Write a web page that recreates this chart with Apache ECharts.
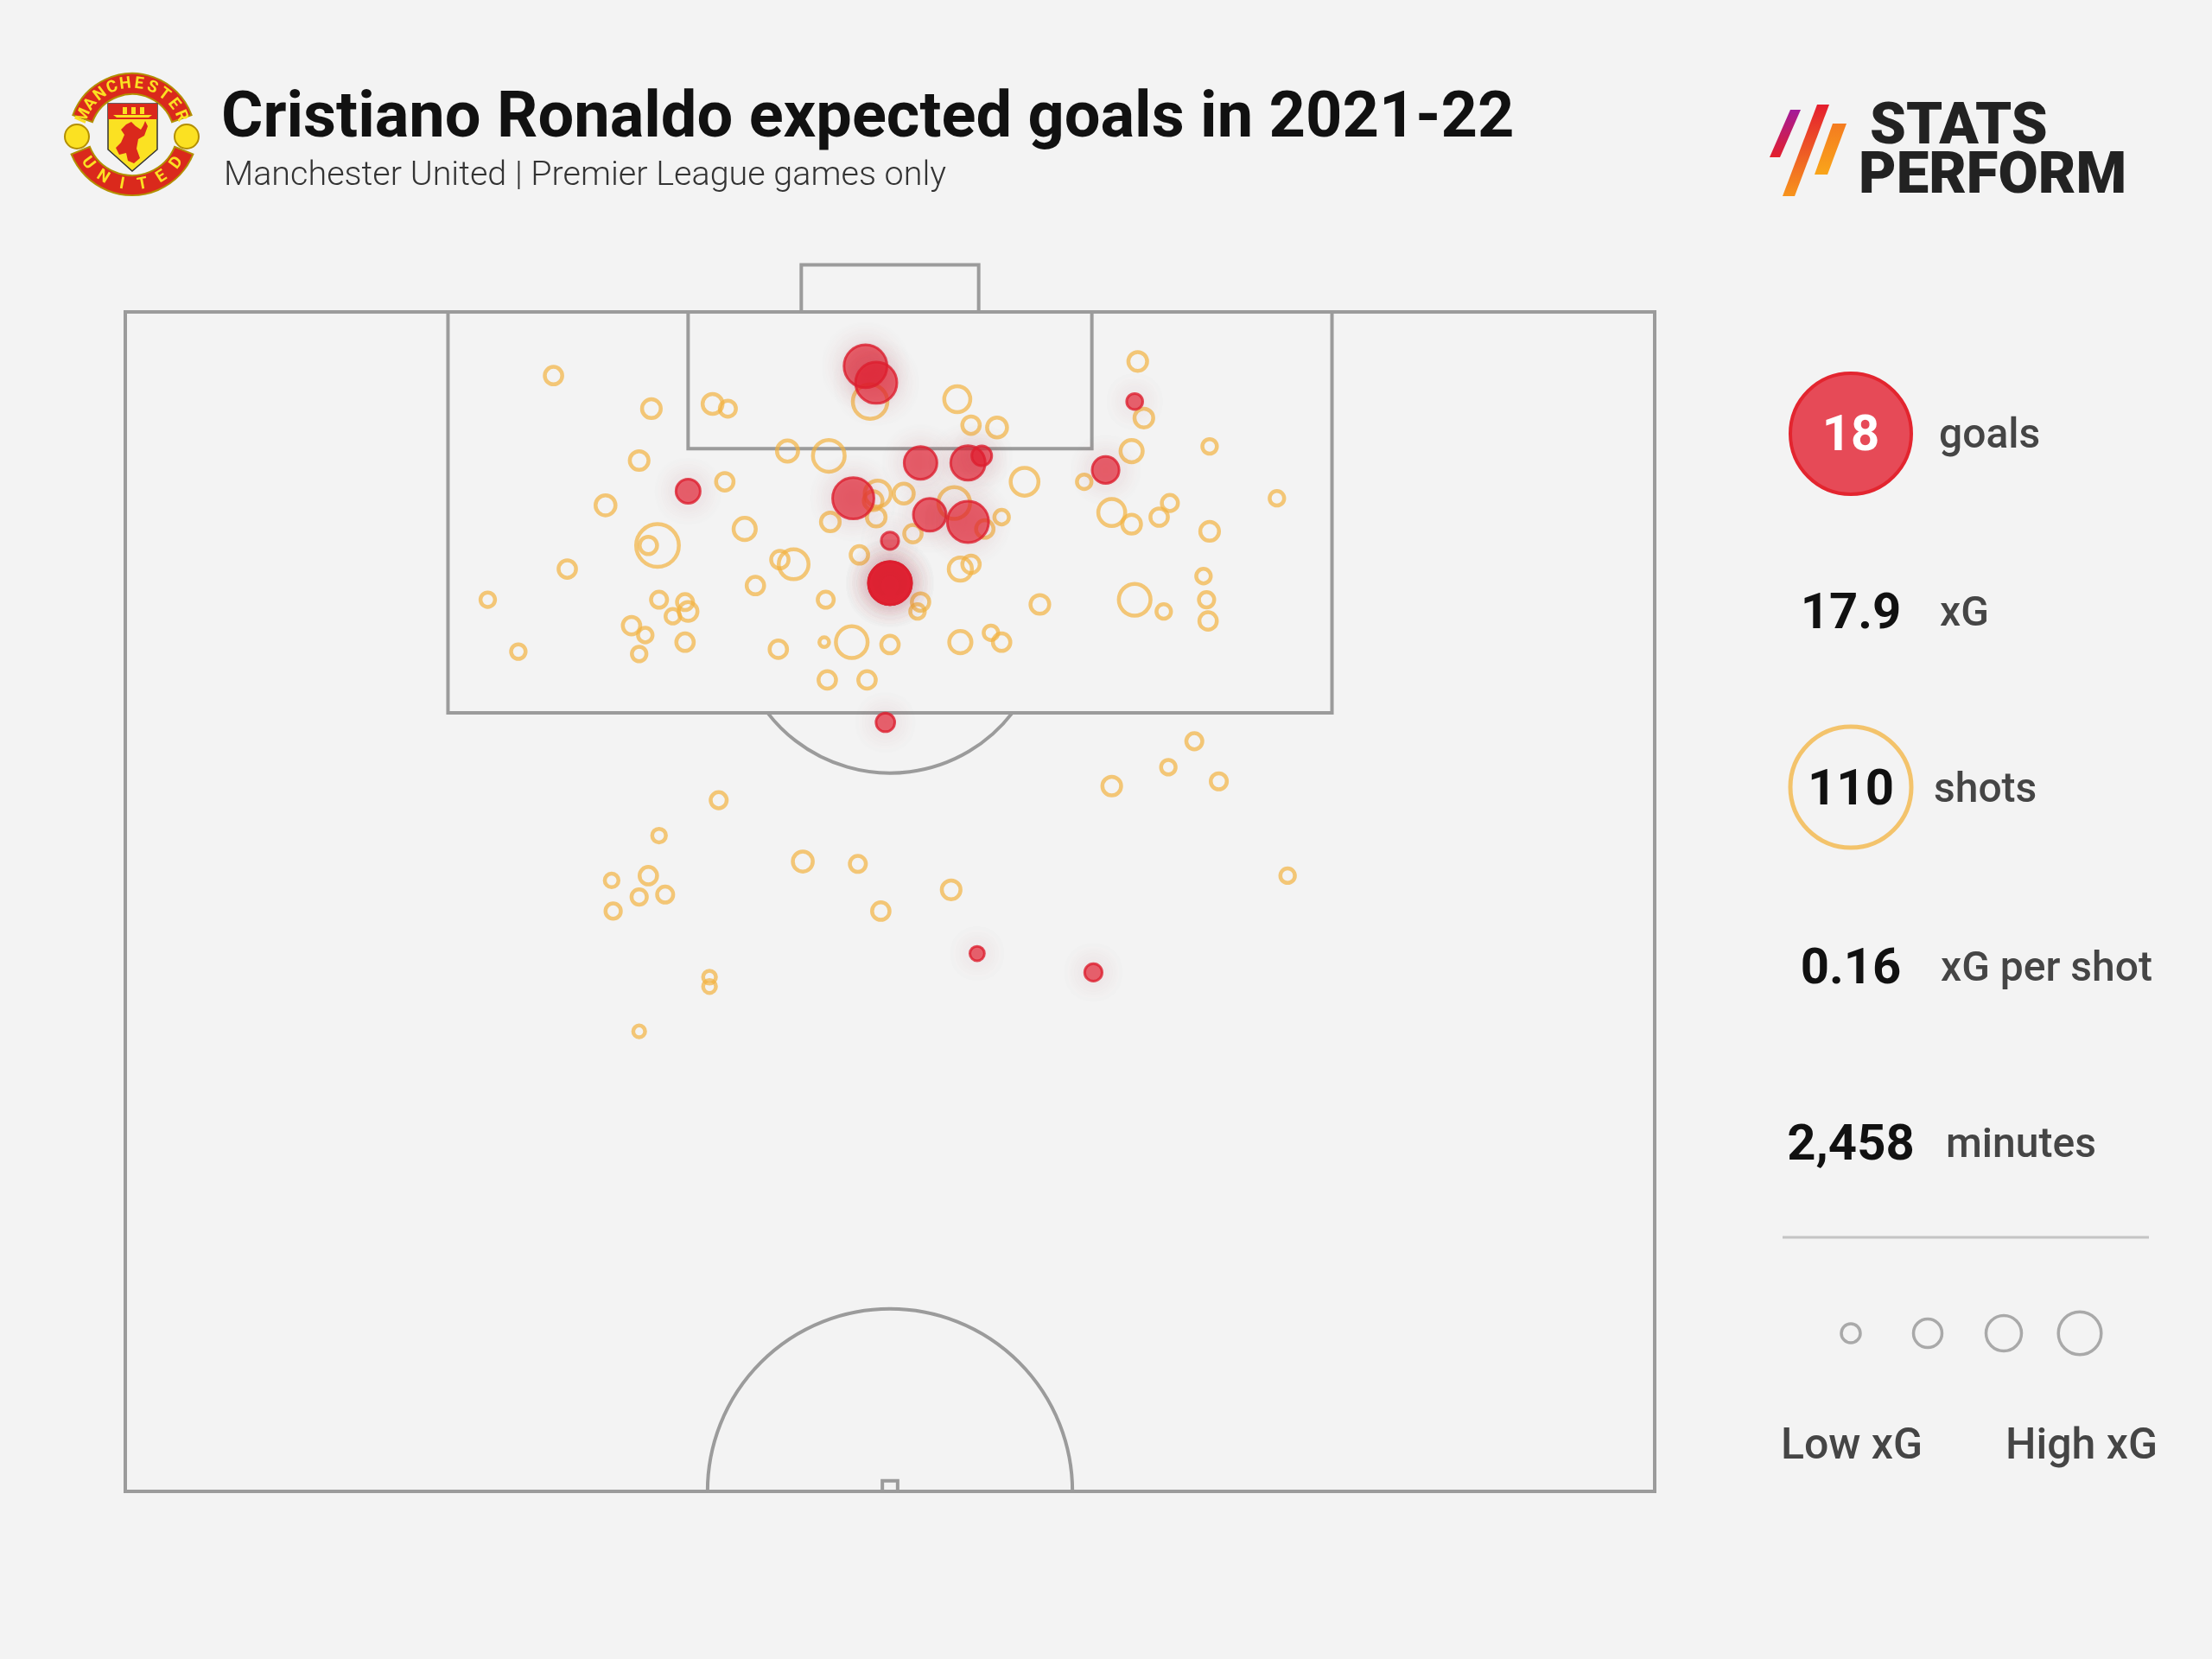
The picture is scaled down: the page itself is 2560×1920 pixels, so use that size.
<!DOCTYPE html>
<html>
<head>
<meta charset="utf-8">
<title>Cristiano Ronaldo expected goals in 2021-22</title>
<script src="https://cdn.jsdelivr.net/npm/echarts@6/dist/echarts.min.js"></script>
<style>
  html, body { margin: 0; padding: 0; background: #f3f3f3; }
  #chart { width: 2560px; height: 1920px; }
</style>
</head>
<body>
<div id="chart"></div>
<script>
// pitch coordinates: [width 0-100, length 50-100 (goal at 100), xG]
var goals = [
    [48.4, 97.7, 0.79],
    [49.1, 97.0, 0.73],
    [36.8, 92.4, 0.25],
    [47.6, 92.1, 0.73],
    [50.0, 90.3, 0.13],
    [50.0, 88.5, 0.79],
    [50.0, 88.5, 0.79],
    [50.0, 88.5, 0.79],
    [52.0, 93.6, 0.46],
    [55.1, 93.6, 0.51],
    [56.0, 93.9, 0.17],
    [52.6, 91.4, 0.46],
    [55.1, 91.1, 0.73],
    [64.1, 93.3, 0.31],
    [66.0, 96.2, 0.11],
    [49.7, 82.6, 0.15],
    [55.7, 72.8, 0.09],
    [63.3, 72.0, 0.13]
];

var shots = [
    [28.0, 97.3, 0.13], [34.4, 95.9, 0.15], [38.4, 96.1, 0.17], [39.4, 95.9, 0.11],
    [33.6, 93.7, 0.15], [39.2, 92.8, 0.13], [31.4, 91.8, 0.17], [34.8, 90.1, 0.78],
    [34.2, 90.1, 0.13], [40.5, 90.8, 0.21], [28.9, 89.1, 0.13], [23.7, 87.8, 0.09],
    [25.7, 85.6, 0.09], [34.9, 87.8, 0.11], [36.6, 87.7, 0.11], [36.8, 87.3, 0.15],
    [35.8, 87.1, 0.09], [33.1, 86.7, 0.13], [34.0, 86.3, 0.09], [33.6, 85.5, 0.09],
    [36.6, 86.0, 0.13], [41.2, 88.4, 0.13], [42.8, 89.5, 0.13], [43.7, 89.3, 0.38],
    [43.3, 94.1, 0.19], [46.0, 93.9, 0.43], [45.8, 87.8, 0.11], [42.7, 85.7, 0.13],
    [45.7, 86.0, 0.04], [47.5, 86.0, 0.43], [50.0, 85.9, 0.13], [45.9, 84.4, 0.13],
    [48.5, 84.4, 0.13], [46.1, 91.1, 0.15], [49.2, 92.3, 0.29], [48.9, 92.0, 0.15],
    [50.9, 92.3, 0.17], [49.1, 91.3, 0.15], [48.0, 89.7, 0.13], [48.7, 96.2, 0.51],
    [66.2, 97.9, 0.15], [66.6, 95.5, 0.15], [54.4, 96.3, 0.29], [55.3, 95.2, 0.13],
    [57.0, 95.1, 0.17], [54.2, 91.9, 0.43], [56.2, 90.8, 0.13], [57.3, 91.3, 0.09],
    [51.5, 90.6, 0.13], [58.8, 92.8, 0.33], [62.7, 92.8, 0.09], [65.8, 94.1, 0.21],
    [70.9, 94.3, 0.09], [75.3, 92.1, 0.09], [64.5, 91.5, 0.31], [65.8, 91.0, 0.15],
    [67.6, 91.3, 0.13], [68.3, 91.9, 0.11], [70.9, 90.7, 0.15], [54.6, 89.1, 0.23],
    [55.3, 89.3, 0.13], [52.0, 87.7, 0.13], [51.8, 87.3, 0.09], [59.8, 87.6, 0.15],
    [66.0, 87.8, 0.43], [67.9, 87.3, 0.09], [70.5, 88.8, 0.09], [70.7, 87.8, 0.10],
    [70.8, 86.9, 0.13], [54.6, 86.0, 0.21], [56.6, 86.4, 0.09], [57.3, 86.0, 0.13],
    [38.8, 79.3, 0.11], [34.9, 77.8, 0.08], [44.3, 76.7, 0.17], [47.9, 76.6, 0.11],
    [34.2, 76.1, 0.13], [31.8, 75.9, 0.08], [33.6, 75.2, 0.10], [35.3, 75.3, 0.11],
    [31.9, 74.6, 0.10], [49.4, 74.6, 0.13], [54.0, 75.5, 0.15], [38.2, 71.8, 0.07],
    [38.2, 71.4, 0.07], [33.6, 69.5, 0.06], [69.9, 81.8, 0.11], [68.2, 80.7, 0.09],
    [71.5, 80.1, 0.11], [64.5, 79.9, 0.15], [76.0, 76.1, 0.09]
];

var statValues = ['18', '17.9', '110', '0.16', '2,458'];
var statLabels = ['goals', 'xG', 'shots', 'xG per shot', 'minutes'];
var keyLabels = ['Low xG', 'High xG'];

var FONT = 'Roboto, "Noto Sans", sans-serif';
var LINE = '#9b9b9b';

function xgSize(v) {
    return 56 * Math.sqrt(v[2]);
}

function renderPitch(params, api) {
    var st = { fill: 'none', stroke: LINE, lineWidth: 4 };
    function box(x0, y0, x1, y1) {
        var a = api.coord([x0, y1]);
        var b = api.coord([x1, y0]);
        return { type: 'rect', shape: { x: a[0], y: a[1], width: b[0] - a[0], height: b[1] - a[1] }, style: st };
    }
    var dc = api.coord([50, 87]);
    var dr = api.size([10.1, 0])[0];
    var penY = api.coord([50, 83])[1];
    var t0 = Math.asin((penY - dc[1]) / dr);
    var cc = api.coord([50, 50]);
    var cr = api.size([11.93, 0])[0];
    return {
        type: 'group',
        children: [
            box(0, 50, 100, 100),
            box(21.1, 83, 78.9, 100),
            box(36.8, 94.2, 63.2, 100),
            box(44.2, 100, 55.8, 102),
            box(49.5, 50, 50.5, 50.45),
            { type: 'arc', shape: { cx: dc[0], cy: dc[1], r: dr, startAngle: t0, endAngle: Math.PI - t0, clockwise: true }, style: st },
            { type: 'arc', shape: { cx: cc[0], cy: cc[1], r: cr, startAngle: Math.PI, endAngle: Math.PI * 2, clockwise: true }, style: st }
        ]
    };
}

function txt(x, y, text, size, weight, color, align) {
    return {
        type: 'text', x: x, y: y, silent: true,
        style: {
            text: text, fill: color, fontFamily: FONT, fontSize: size, fontWeight: weight,
            align: align || 'left', verticalAlign: 'middle',
            textAlign: align || 'left', textVerticalAlign: 'middle'
        }
    };
}

function arcLetters(str, cx, cy, r, a0, a1, top) {
    var out = [];
    var n = str.length;
    for (var i = 0; i < n; i++) {
        var a = (a0 + (a1 - a0) * i / (n - 1)) * Math.PI / 180;
        var t = txt(cx + r * Math.cos(a), cy + r * Math.sin(a), str[i], 19, 'bold', '#fbe122', 'center');
        t.rotation = top ? (Math.PI * 1.5 - a) : (Math.PI * 0.5 - a);
        out.push(t);
    }
    return out;
}

function crest() {
    var red = '#da291c', yel = '#fbe122', edge = '#b38f00';
    var parts = [
        { type: 'sector', shape: { cx: 153, cy: 158, r: 73, r0: 49, startAngle: 200 * Math.PI / 180, endAngle: 340 * Math.PI / 180 },
          style: { fill: red, stroke: edge, lineWidth: 2 } },
        { type: 'sector', shape: { cx: 153, cy: 150, r: 76, r0: 53, startAngle: 22 * Math.PI / 180, endAngle: 158 * Math.PI / 180 },
          style: { fill: red, stroke: edge, lineWidth: 2 } },
        { type: 'circle', shape: { cx: 89, cy: 158, r: 14 }, style: { fill: yel, stroke: edge, lineWidth: 2 } },
        { type: 'circle', shape: { cx: 216, cy: 158, r: 14 }, style: { fill: yel, stroke: edge, lineWidth: 2 } },
        { type: 'polygon', shape: { points: [[125, 120], [182, 120], [182, 173], [153, 198], [125, 173]] },
          style: { fill: yel, stroke: '#333', lineWidth: 1.5 } },
        { type: 'rect', shape: { x: 125, y: 120, width: 57, height: 18 }, style: { fill: red } },
        { type: 'polygon', shape: { points: [[131, 133], [176, 133], [172, 136], [135, 136]] }, style: { fill: yel } },
        { type: 'rect', shape: { x: 142, y: 124, width: 5, height: 8 }, style: { fill: yel } },
        { type: 'rect', shape: { x: 152, y: 124, width: 5, height: 8 }, style: { fill: yel } },
        { type: 'rect', shape: { x: 162, y: 124, width: 5, height: 8 }, style: { fill: yel } },
        { type: 'polygon', shape: { points: [[146, 144], [152, 141], [157, 146], [163, 150], [166, 145], [168, 140], [171, 146], [167, 157],
            [160, 161], [158, 172], [162, 183], [155, 189], [148, 186], [146, 177], [138, 179], [134, 171], [140, 165], [144, 156], [140, 150]] },
          style: { fill: red } }
    ];
    return parts.concat(arcLetters('MANCHESTER', 153, 158, 61, 203, 337, true))
                .concat(arcLetters('UNITED', 153, 150, 64.5, 143, 37, false));
}

function statsLogo() {
    var G = echarts.graphic.LinearGradient;
    return [
        { type: 'polygon', shape: { points: [[2072, 127], [2084, 127], [2060, 182], [2048, 182]] },
          style: { fill: new G(0, 0, 0, 1, [{ offset: 0, color: '#a3199a' }, { offset: 1, color: '#e4202b' }]) } },
        { type: 'polygon', shape: { points: [[2103, 121], [2117, 121], [2077, 227], [2063, 227]] },
          style: { fill: new G(0, 0, 0, 1, [{ offset: 0, color: '#e41e2e' }, { offset: 1, color: '#f7941d' }]) } },
        { type: 'polygon', shape: { points: [[2121, 143], [2137, 143], [2115, 202], [2100, 202]] },
          style: { fill: new G(0, 0, 0, 1, [{ offset: 0, color: '#f47b20' }, { offset: 1, color: '#f9a51a' }]) } },
        txt(2164, 149, 'STATS', 67, 900, '#222222'),
        txt(2151, 206, 'PERFORM', 67, 900, '#222222')
    ];
}

function panel() {
    var ys = [506, 712, 916, 1123, 1327];
    var lx = [2244, 2245, 2238, 2246, 2252];
    var els = [
        { type: 'circle', shape: { cx: 2142, cy: 502, r: 70 }, style: { fill: '#e64a57', stroke: '#e3252f', lineWidth: 4 } },
        { type: 'circle', shape: { cx: 2142, cy: 911, r: 70 }, style: { fill: 'none', stroke: '#f3c36b', lineWidth: 5 } },
        { type: 'line', shape: { x1: 2063, y1: 1432, x2: 2487, y2: 1432 }, style: { stroke: '#c4c4c4', lineWidth: 3 } }
    ];
    statValues.forEach(function (v, i) {
        els.push(txt(2142, ys[i], v, 58, 'bold', i === 0 ? '#ffffff' : '#111111', 'center'));
        els.push(txt(lx[i], ys[i], statLabels[i], 48, 500, '#454545'));
    });
    [[2142, 11], [2231, 16.5], [2319, 20.5], [2407, 24.8]].forEach(function (c) {
        els.push({ type: 'circle', shape: { cx: c[0], cy: 1543, r: c[1] }, style: { fill: 'none', stroke: '#a9a9a9', lineWidth: 3.5 } });
    });
    els.push(txt(2143, 1675, keyLabels[0], 50, 500, '#454545', 'center'));
    els.push(txt(2409, 1675, keyLabels[1], 50, 500, '#454545', 'center'));
    return els;
}

var dom = document.getElementById('chart');
var myChart = echarts.init(dom);

var option = {
    backgroundColor: '#f3f3f3',
    animation: false,
    grid: { left: 145, top: 361, width: 1770, height: 1365 },
    xAxis: { type: 'value', min: 0, max: 100, show: false },
    yAxis: { type: 'value', min: 50, max: 100, show: false },
    graphic: [
        txt(256, 139, 'Cristiano Ronaldo expected goals in 2021-22', 74, 'bold', '#111111'),
        txt(259, 204, 'Manchester United | Premier League games only', 39.5, 300, '#333333')
    ].concat(crest(), statsLogo(), panel()),
    series: [
        {
            type: 'custom',
            renderItem: renderPitch,
            data: [0],
            silent: true,
            z: 1
        },
        {
            name: 'shots',
            type: 'scatter',
            data: shots,
            symbolSize: xgSize,
            itemStyle: { color: 'rgba(0,0,0,0)', borderColor: 'rgba(242,178,64,0.88)', borderWidth: 4.5 },
            emphasis: { disabled: true },
            z: 2
        },
        {
            name: 'goals',
            type: 'scatter',
            data: goals,
            symbolSize: xgSize,
            itemStyle: {
                color: 'rgba(228,28,46,0.84)', borderColor: '#dd1f30', borderWidth: 3,
                shadowBlur: 30, shadowColor: 'rgba(160,50,60,0.3)'
            },
            emphasis: { disabled: true },
            z: 3
        }
    ]
};

if (option && typeof option === 'object') {
    myChart.setOption(option, true);
}
window.onresize = function () {
    myChart.resize();
};
</script>
</body>
</html>
